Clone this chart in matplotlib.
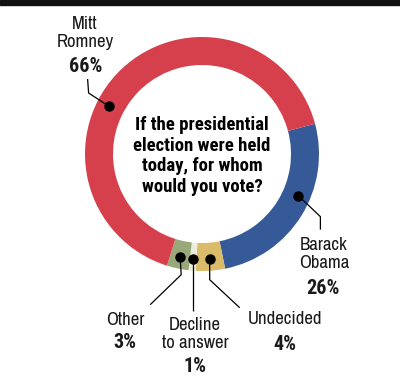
import numpy as np
import matplotlib.pyplot as plt
from matplotlib.patches import Rectangle

# poll results, clockwise from the right-hand side of the ring
names = ["Barack\nObama", "Undecided", "Decline\nto answer", "Other", "Mitt\nRomney"]
shares = [26, 4, 1, 3, 66]
pct_labels = ["26%", "4%", "1%", "3%", "66%"]
colors = ["#365a97", "#d9bb69", "#eaecdc", "#99a878", "#d5404c"]
question = "If the presidential\nelection were held\ntoday, for whom\nwould you vote?"

FONT = ["Archivo Narrow", "DejaVu Sans"]
BOLD = ["Roboto Condensed", "Fira Sans Condensed", "DejaVu Sans"]

W, H = 400, 383
fig = plt.figure(figsize=(W / 100, H / 100), dpi=100)
ax = fig.add_axes([0, 0, 1, 1])

cx, cy, R, ring = 202, 229, 117, 28
wedges, _ = ax.pie(shares, colors=colors, startangle=15, counterclock=False,
                   radius=R, center=(cx, cy), frame=True,
                   wedgeprops=dict(width=ring, linewidth=0))
ax.set_xlim(0, W)
ax.set_ylim(0, H)
ax.set_aspect("equal")
ax.axis("off")

ax.text(cx, cy - 2, question, ha="center", va="center", fontsize=13.5,
        fontweight="bold", family=BOLD, fontstretch="condensed", linespacing=1.2)

# where the dot sits inside each wedge (fraction of its arc), leader path
# offsets from the dot, label anchor and percent anchor
dot_frac = [0.59, 0.5, 0.5, 0.5, 0.58]
leaders = [
    [(22, -21), (22, -34)],
    [(0, -21), (30, -49)],
    [(0, -52)],
    [(1, -18), (-30, -48)],
    [(-20, 13), (-21, 27)],
]
name_pos = [(324, 129), (285, 64), (195, 49), (125, 63), (85, 350)]
pct_pos = [(323, 94), (285, 38), (195, 16), (125, 40), (86, 316)]

rd = R - ring / 2 + 2
for w, f, path, npos, ppos, name, pct in zip(wedges, dot_frac, leaders,
                                             name_pos, pct_pos, names, pct_labels):
    ang = np.deg2rad(w.theta1 + f * (w.theta2 - w.theta1))
    dx, dy = cx + rd * np.cos(ang), cy + rd * np.sin(ang)
    xs = [dx] + [dx + p[0] for p in path]
    ys = [dy] + [dy + p[1] for p in path]
    ax.plot(xs, ys, color="black", lw=0.9, solid_capstyle="butt")
    ax.plot(dx, dy, "o", color="black", ms=6.5)
    ax.text(npos[0], npos[1], name, ha="center", va="center", fontsize=13.5,
            family=FONT, fontstretch="condensed", linespacing=1.1, color="#1a1a1a")
    ax.text(ppos[0], ppos[1], pct, ha="center", va="center", fontsize=14.5,
            fontweight="bold", family=BOLD, fontstretch="condensed", color="#1a1a1a")

# dark strip along the top edge of the screenshot
fig.patches.append(Rectangle((0, 1 - 5 / H), 1, 5 / H, transform=fig.transFigure,
                             color="#111111", zorder=5))

fig.savefig("out.png", dpi=100, facecolor="white")
